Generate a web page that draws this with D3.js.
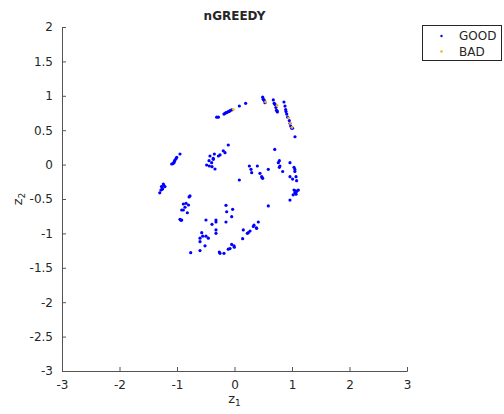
<!DOCTYPE html>
<html>
<head>
<meta charset="utf-8">
<script src="https://cdn.jsdelivr.net/npm/d3@7"></script>
<style>
  body { margin: 0; background: #fff; }
  text { font-family: "DejaVu Sans", sans-serif; fill: #262626; }
</style>
</head>
<body>
<div id="chart"></div>
<script>
// values
var xTicks = [-3, -2, -1, 0, 1, 2, 3];
var yTicks = [-3, -2.5, -2, -1.5, -1, -0.5, 0, 0.5, 1, 1.5, 2];
var seriesNames = ["GOOD", "BAD"];

var goodPoints = [
  [0.49, 0.98], [0.50, 0.95], [0.51, 0.94], [0.52, 0.93], [0.53, 0.90],
  [0.675, 0.94], [0.69, 0.89], [0.70, 0.88], [0.71, 0.87], [0.72, 0.83], [0.73, 0.79], [0.745, 0.765], [0.74, 0.78],
  [0.86, 0.91], [0.878, 0.85], [0.89, 0.80], [0.896, 0.77], [0.908, 0.735], [0.925, 0.69], [0.953, 0.64],
  [0.965, 0.60], [0.977, 0.56], [0.995, 0.528], [1.01, 0.53], [1.052, 0.405],
  [-0.31, 0.69], [-0.28, 0.69], [-0.183, 0.735], [-0.165, 0.745], [-0.148, 0.755], [-0.128, 0.76],
  [-0.108, 0.77], [-0.09, 0.775], [-0.078, 0.784], [-0.049, 0.794], [0.084, 0.852], [0.194, 0.89],
  [0.70, 0.22],
  [-0.108, 0.285], [-0.195, 0.20], [-0.165, 0.173], [-0.252, 0.14], [-0.28, 0.125], [-0.35, 0.154],
  [-0.426, 0.125], [-0.368, 0.077], [-0.443, 0.057], [-0.397, 0.028], [-0.484, -0.006], [-0.438, -0.02],
  [-0.391, -0.03], [-0.339, -0.064], [-0.37, 0.09],
  [-0.948, 0.154], [-1.005, 0.106], [-1.017, 0.086], [-1.035, 0.067], [-1.045, 0.05], [-1.052, 0.028],
  [-1.07, 0.015], [-1.092, 0.009],
  [-1.238, -0.282], [-1.27, -0.32], [-1.21, -0.32], [-1.25, -0.35], [-1.23, -0.30], [-1.28, -0.37],
  [-1.26, -0.36], [-1.30, -0.41],
  [-0.774, -0.456], [-0.79, -0.47],
  [-0.89, -0.573], [-0.843, -0.563], [-0.80, -0.587], [-0.861, -0.62], [-0.918, -0.66], [-0.89, -0.66],
  [-0.82, -0.70], [-0.948, -0.795], [-0.918, -0.805], [-0.93, -0.81],
  [-0.148, -0.592], [-0.032, -0.65], [-0.136, -0.685], [-0.049, -0.757], [-0.148, -0.834],
  [0.588, -0.60],
  [-0.496, -0.805], [-0.391, -0.868], [-0.322, -0.805], [-0.322, -0.834], [-0.322, -0.95], [-0.322, -0.999],
  [-0.57, -0.99], [-0.553, -1.04], [-0.496, -1.04], [-0.60, -1.07], [-0.455, -1.07], [-0.60, -1.12],
  [-0.513, -1.18], [-0.762, -1.28], [-0.60, -1.25],
  [-0.264, -1.27], [-0.252, -1.29], [-0.183, -1.29],
  [-0.049, -1.16], [-0.009, -1.18], [-0.003, -1.20], [-0.078, -1.22], [-0.108, -1.23],
  [0.142, -1.077], [0.223, -0.999], [0.24, -0.99], [0.27, -0.965], [0.153, -0.95], [0.327, -0.90],
  [0.339, -0.88], [0.386, -0.926], [0.414, -0.834], [0.38, -0.92],
  [0.258, -0.02], [0.397, -0.02], [0.287, -0.068], [0.299, -0.117], [0.443, -0.127], [0.473, -0.175],
  [0.49, -0.20], [0.48, -0.19], [0.588, -0.068], [0.084, -0.224],
  [0.78, 0.057], [0.762, 0.028], [0.79, -0.02], [0.78, -0.04], [0.838, -0.10], [0.965, 0.028],
  [1.035, -0.04], [1.05, -0.07], [1.05, -0.10], [0.965, -0.175], [1.01, -0.21], [1.07, -0.175], [1.08, -0.234],
  [1.035, -0.37], [1.08, -0.39], [1.05, -0.41], [1.11, -0.37], [1.07, -0.43], [1.02, -0.44],
  [1.06, -0.38], [0.965, -0.515]
];

var badPoints = [
  [-0.02, 0.80], [0.54, 0.91], [0.74, 0.86], [0.94, 0.68], [0.97, 0.60], [1.0, 0.54]
];

var colors = { GOOD: "#0000ff", BAD: "#edb120" };

var width = 504, height = 414;
var margin = { left: 62, right: 97, top: 27, bottom: 43 };

var svg = d3.select("#chart").append("svg")
    .attr("width", width)
    .attr("height", height);

var x = d3.scaleLinear().domain([-3, 3]).range([margin.left, width - margin.right]);
var y = d3.scaleLinear().domain([-3, 2]).range([height - margin.bottom, margin.top]);

// axes (MATLAB style: ticks inside, box off)
var xAxis = d3.axisBottom(x).tickValues(xTicks).tickSizeInner(-4).tickSizeOuter(-4).tickPadding(9)
    .tickFormat(function(d) { return String(d); });
var yAxis = d3.axisLeft(y).tickValues(yTicks).tickSizeInner(-4).tickSizeOuter(-4).tickPadding(9)
    .tickFormat(function(d) { return String(d); });

var gx = svg.append("g")
    .attr("transform", "translate(0," + (height - margin.bottom) + ")")
    .call(xAxis);
var gy = svg.append("g")
    .attr("transform", "translate(" + margin.left + ",0)")
    .call(yAxis);

[gx, gy].forEach(function(g) {
    g.selectAll("path, line").attr("stroke", "#555").attr("stroke-width", 1);
    g.selectAll("text").attr("font-size", "12px")
        .attr("font-family", "DejaVu Sans, sans-serif").attr("fill", "#262626");
});
gx.selectAll("text").attr("dy", "0.71em");

// points
svg.append("g").selectAll("circle.good")
    .data(goodPoints)
    .enter().append("circle")
    .attr("class", "good")
    .attr("cx", function(d) { return x(d[0]); })
    .attr("cy", function(d) { return y(d[1]); })
    .attr("r", 1.6)
    .attr("fill", colors.GOOD);

svg.append("g").selectAll("circle.bad")
    .data(badPoints)
    .enter().append("circle")
    .attr("class", "bad")
    .attr("cx", function(d) { return x(d[0]); })
    .attr("cy", function(d) { return y(d[1]); })
    .attr("r", 1.4)
    .attr("fill", colors.BAD);

// title
svg.append("text")
    .attr("x", (x(-3) + x(3)) / 2)
    .attr("y", 20)
    .attr("text-anchor", "middle")
    .attr("font-size", "12px")
    .attr("font-weight", "bold")
    .attr("fill", "#000")
    .text("nGREEDY");

// axis labels
var xl = svg.append("text")
    .attr("x", (x(-3) + x(3)) / 2)
    .attr("y", 403)
    .attr("text-anchor", "middle")
    .attr("font-size", "13px");
xl.append("tspan").text("z");
xl.append("tspan").attr("font-size", "9px").attr("dy", "3").text("1");

var yl = svg.append("text")
    .attr("transform", "translate(22," + ((y(-3) + y(2)) / 2) + ") rotate(-90)")
    .attr("text-anchor", "middle")
    .attr("font-size", "13px");
yl.append("tspan").text("z");
yl.append("tspan").attr("font-size", "9px").attr("dy", "3").text("2");

// legend
var legend = svg.append("g");
legend.append("rect")
    .attr("x", 422.5).attr("y", 25.5)
    .attr("width", 79).attr("height", 35)
    .attr("fill", "#fff").attr("stroke", "#262626").attr("stroke-width", 1);

seriesNames.forEach(function(name, i) {
    legend.append("circle")
        .attr("cx", 441.5).attr("cy", 36 + i * 15.5)
        .attr("r", 1.2)
        .attr("fill", colors[name]);
    legend.append("text")
        .attr("x", 459).attr("y", 40 + i * 15.5)
        .attr("font-size", "12px")
        .attr("fill", "#000")
        .text(name);
});
</script>
</body>
</html>
